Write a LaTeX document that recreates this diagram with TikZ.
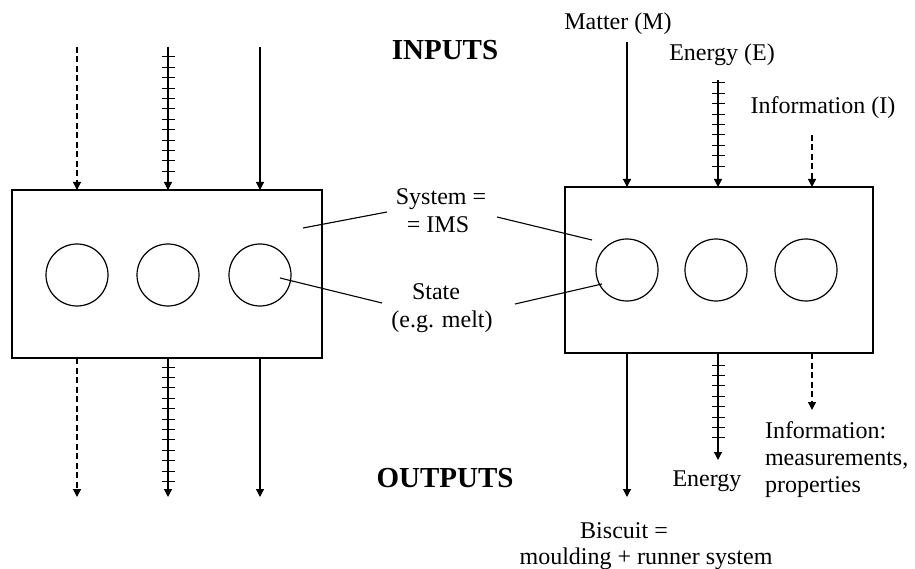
\documentclass[tikz,border=0pt]{standalone}
\usepackage{fontspec}
\setmainfont{Liberation Serif}
\usetikzlibrary{arrows.meta,decorations.markings}
\begin{document}
\begin{tikzpicture}[x=1pt,y=-1pt,
  every node/.style={inner sep=0pt, outer sep=0pt},
  lbl/.style={font=\fontsize{24}{28}\selectfont, anchor=base},
  lblw/.style={font=\fontsize{24}{28}\selectfont, anchor=base west},
  hdr/.style={font=\fontsize{29}{34}\selectfont\bfseries, anchor=base},
  sysbox/.style={draw, line width=1.2pt, rectangle},
  ring/.style={draw, circle, line width=1.2pt, minimum size=62pt},
  flow/.style={line width=1.2pt, -{Triangle[width=8pt,length=8pt]}},
  infoflow/.style={flow, dash pattern=on 6pt off 3.5pt},
  energyflow/.style={flow, postaction={decorate},
    decoration={markings, mark=between positions #1 and -14pt step 10.4pt with {\draw[line width=1pt,-,solid] (0,-6.5pt)--(0,6.5pt);}}},
  energyflow/.default=10pt,
  leader/.style={line width=1.1pt}]
\useasboundingbox (0,0) rectangle (915,569);

% system boxes
\node[sysbox, minimum width=310pt, minimum height=168pt] (L) at (167,274) {};
\node[sysbox, minimum width=308pt, minimum height=166pt] (R) at (719,270) {};

% state circles
\node[ring] (lc1) at (77,275) {};
\node[ring] (lc2) at (168,275) {};
\node[ring] (lc3) at (260,275) {};
\node[ring] (rc1) at (627,270) {};
\node[ring] (rc2) at (716,270) {};
\node[ring] (rc3) at (806,270) {};

% left inputs
\coordinate (li1) at (77,47);
\coordinate (li2) at (168,47);
\coordinate (li3) at (260,47);
\draw[infoflow] (li1) -- (li1 |- L.north);
\draw[energyflow=10pt] (li2) -- (li2 |- L.north);
\draw[flow] (li3) -- (li3 |- L.north);

% left outputs
\coordinate (lo1) at (77,497);
\coordinate (lo2) at (168,497);
\coordinate (lo3) at (260,497);
\draw[infoflow] (lo1 |- L.south) -- (lo1);
\draw[energyflow=9pt] (lo2 |- L.south) -- (lo2);
\draw[flow] (lo3 |- L.south) -- (lo3);

% right inputs
\node[lbl] (matter) at (618,30) {Matter (M)};
\node[lbl] (energyin) at (722,61) {Energy (E)};
\node[lbl] (infoin) at (823,114) {Information (I)};
\coordinate (ri1) at (627,42);
\coordinate (ri2) at (718,80);
\coordinate (ri3) at (812,135);
\draw[flow] (ri1) -- (ri1 |- R.north);
\draw[energyflow=3pt] (ri2) -- (ri2 |- R.north);
\draw[infoflow] (ri3) -- (ri3 |- R.north);

% right outputs
\coordinate (ro1) at (627,497);
\coordinate (ro2) at (718,460);
\coordinate (ro3) at (812,410);
\draw[flow] (ro1 |- R.south) -- (ro1);
\draw[energyflow=12pt] (ro2 |- R.south) -- (ro2);
\draw[infoflow] (ro3 |- R.south) -- (ro3);

% headings
\node[hdr] (inputs) at (445,60) {INPUTS};
\node[hdr] (outputs) at (445,487) {OUTPUTS};

% central labels
\node[lbl] (sys1) at (441,205) {System =};
\node[lbl] (sys2) at (438,233) {= IMS};
\node[lbl] (st1) at (436,299) {State};
\node[lbl] (st2) at (442,327) {(e.g. melt)};

% leader lines
\coordinate (sysL) at (303,228);
\coordinate (sysLt) at (387,212);
\coordinate (sysR) at (592,240);
\coordinate (sysRt) at (497,217);
\coordinate (stL) at (280,278);
\coordinate (stLt) at (382,303);
\coordinate (stR) at (602,284);
\coordinate (stRt) at (515,304);
\draw[leader] (sysL) -- (sysLt);
\draw[leader] (sysRt) -- (sysR);
\draw[leader] (stL) -- (stLt);
\draw[leader] (stRt) -- (stR);

% output labels
\node[lbl] (energyout) at (707,486) {Energy};
\node[lblw] (info1) at (765,438) {Information:};
\node[lblw] (info2) at (765,465) {measurements,};
\node[lblw] (info3) at (765,492) {properties};
\node[lbl] (bis1) at (624,538) {Biscuit =};
\node[lbl] (bis2) at (646,564) {moulding + runner system};
\end{tikzpicture}
\end{document}
